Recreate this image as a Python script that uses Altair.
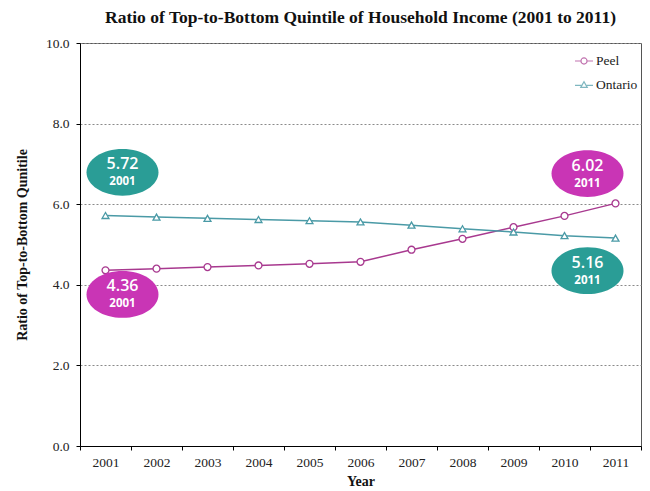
import altair as alt
import pandas as pd

# ---- data ----
years = ["2001", "2002", "2003", "2004", "2005", "2006", "2007", "2008", "2009", "2010", "2011"]
peel = [4.36, 4.40, 4.44, 4.48, 4.52, 4.57, 4.87, 5.14, 5.43, 5.71, 6.02]
ontario = [5.72, 5.68, 5.65, 5.62, 5.59, 5.56, 5.48, 5.39, 5.31, 5.22, 5.16]
series_names = ["Peel", "Ontario"]
series_colors = ["#A8398F", "#4A9AA6"]

callout_year = ["2001", "2001", "2011", "2011"]
callout_label = ["5.72", "4.36", "6.02", "5.16"]
callout_pos = [6.79, 3.76, 6.76, 4.35]          # vertical position of the bubble (axis units)
callout_fill = ["#2A9D96", "#C935B5", "#C935B5", "#2A9D96"]
callout_side = ["left", "left", "right", "right"]

y_ticks = [0, 2, 4, 6, 8, 10]

serif = "Liberation Serif, Times New Roman, serif"
sans = "Open Sans"

df = pd.DataFrame({
    "Year": years * 2,
    "value": peel + ontario,
    "series": ["Peel"] * len(years) + ["Ontario"] * len(years),
})
cdf = pd.DataFrame({
    "Year": callout_year,
    "label": callout_label,
    "pos": callout_pos,
    "fill": callout_fill,
    "side": callout_side,
})

x_enc = alt.X("Year:N", sort=years,
              scale=alt.Scale(type="band", paddingInner=0, paddingOuter=0),
              axis=alt.Axis(title="Year", labelAngle=0, tickBand="extent", grid=False,
                            domainColor="#000", tickColor="#000", tickSize=4,
                            labelFont=serif, labelFontSize=13.5, labelColor="#222",
                            labelPadding=5,
                            titleFont=serif, titleFontSize=14, titleFontWeight="bold",
                            titleColor="#111", titlePadding=6))
y_enc = alt.Y("value:Q",
              scale=alt.Scale(domain=[0, 10], nice=False),
              axis=alt.Axis(title="Ratio of Top-to-Bottom Qunitile", values=y_ticks, format=".1f",
                            grid=True, gridDash=[2, 2], gridColor="#8a8a8a",
                            domainColor="#000", tickColor="#000", tickSize=4,
                            labelFont=serif, labelFontSize=13.5, labelColor="#222",
                            labelPadding=7,
                            titleFont=serif, titleFontSize=14, titleFontWeight="bold",
                            titleColor="#111", titlePadding=16))

base = alt.Chart(df)

layers = []
shapes_pt = ["circle", "triangle-up"]
for name, col, shp in zip(series_names, series_colors, shapes_pt):
    sub = base.transform_filter(alt.datum.series == name)
    layers.append(sub.mark_line(color=col, strokeWidth=1.5).encode(x=x_enc, y=y_enc))
    layers.append(sub.mark_point(shape=shp, size=48, filled=True, fill="white",
                                 stroke=col, strokeWidth=1.3, opacity=1)
                  .encode(x=x_enc, y=y_enc))

# legend-only layer (no visible marks): colour + line-with-marker symbols
peel_sym = ("M -1 0 L -0.34 0 M 0.34 0 L 1 0 M -0.34 0 "
            "A 0.34 0.34 0 1 1 0.34 0 A 0.34 0.34 0 1 1 -0.34 0")
ont_sym = ("M -1 0.05 L -0.3 0.05 M 0.3 0.05 L 1 0.05 "
           "M -0.36 0.26 L 0 -0.36 L 0.36 0.26 Z")
legend = alt.Legend(title=None, orient="none", legendX=494, legendY=8,
                    labelFont=serif, labelFontSize=13.5, labelColor="#222",
                    symbolSize=324, symbolStrokeWidth=1.2, labelOffset=2,
                    rowPadding=7)
legend_layer = base.transform_filter("false").mark_point(filled=False).encode(
    color=alt.Color("series:N", scale=alt.Scale(domain=series_names, range=series_colors),
                    legend=legend),
    shape=alt.Shape("series:N", scale=alt.Scale(domain=series_names, range=[peel_sym, ont_sym]),
                    legend=legend),
)
layers.append(legend_layer)

# call-out bubbles
ellipse = "M -1 0 A 1 0.65 0 1 1 1 0 A 1 0.65 0 1 1 -1 0 Z"
cbase = alt.Chart(cdf)
for side, off in [("left", 17), ("right", -28)]:
    sc = cbase.transform_filter(alt.datum.side == side)
    yc = alt.Y("pos:Q")
    layers.append(sc.mark_point(shape=ellipse, size=5184, filled=True, opacity=1,
                                strokeWidth=0, xOffset=off)
                  .encode(x=x_enc, y=yc, fill=alt.Fill("fill:N", scale=None)))
    layers.append(sc.mark_text(font=sans, fontSize=16, fontWeight=600, color="white",
                               dy=-8, xOffset=off, baseline="middle", align="center")
                  .encode(x=x_enc, y=yc, text="label:N"))
    layers.append(sc.mark_text(font=sans, fontSize=11.5, fontWeight="bold", color="white",
                               dy=10, xOffset=off, baseline="middle", align="center")
                  .encode(x=x_enc, y=yc, text="Year:N"))

chart = alt.layer(*layers).properties(
    width=561, height=403,
    title=alt.TitleParams("Ratio of Top-to-Bottom Quintile of Household Income (2001 to 2011)",
                          font=serif, fontSize=17.5, fontWeight="bold", color="#111",
                          anchor="middle", offset=10),
    autosize=alt.AutoSizeParams(type="none"),
    padding={"left": 72, "top": 35, "right": 1, "bottom": 44},
).configure(background="white", font=serif).configure_view(
    stroke="#555", strokeWidth=1
).configure_axis(labelFont=serif, titleFont=serif).configure_legend(labelFont=serif)

chart.save("out.html", embed_options={"renderer": "svg", "actions": False})
